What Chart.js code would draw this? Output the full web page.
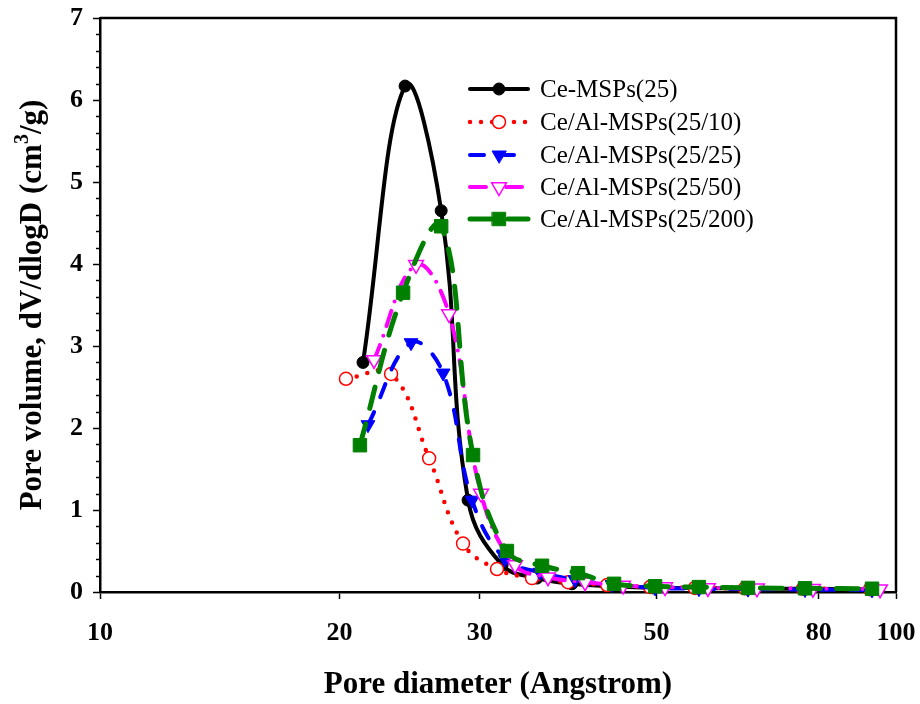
<!DOCTYPE html>
<html><head><meta charset="utf-8">
<script src="https://cdn.jsdelivr.net/npm/chart.js@4.4.0/dist/chart.umd.min.js"></script>
<style>html,body{margin:0;padding:0;background:#fff;} canvas{display:block;}</style>
</head><body>
<canvas id="c" width="920" height="704"></canvas>
<script>
// ---- data ----
const xTickValues = [10, 20, 30, 50, 80, 100];
const yMin = 0, yMax = 7;
const seriesNames = ["Ce-MSPs(25)", "Ce/Al-MSPs(25/10)", "Ce/Al-MSPs(25/25)", "Ce/Al-MSPs(25/50)", "Ce/Al-MSPs(25/200)"];

const ceX   = [21.4, 24.17, 26.83, 29.0, 32.0, 35.4, 39.17, 43.73, 49.52, 56.39, 65.17, 76.85, 93.3];
const ceY   = [2.80, 6.17, 4.65, 1.12, 0.33, 0.17, 0.10, 0.07, 0.05, 0.05, 0.04, 0.04, 0.03];

const al10X = [20.37, 23.21, 25.91, 28.58, 31.53, 34.89, 38.72, 43.36, 49.09, 55.9, 64.6, 76.41, 92.76];
const al10Y = [2.60, 2.66, 1.63, 0.59, 0.28, 0.17, 0.12, 0.085, 0.06, 0.05, 0.045, 0.04, 0.035];

const al25X = [21.71, 24.59, 26.98, 29.34, 32.27, 35.71, 39.51, 43.99, 49.81, 56.55, 65.17, 76.85, 93.3];
const al25Y = [2.04, 3.04, 2.67, 1.12, 0.40, 0.24, 0.15, 0.09, 0.05, 0.04, 0.035, 0.03, 0.025];

const al50X = [22.09, 24.95, 27.45, 30.11, 33.22, 36.54, 40.68, 45.4, 51.27, 58.04, 66.89, 78.64, 95.48];
const al50Y = [2.83, 3.99, 3.39, 1.20, 0.33, 0.18, 0.12, 0.08, 0.06, 0.05, 0.045, 0.04, 0.035];

const al200X = [21.21, 24.03, 26.83, 29.42, 32.45, 35.92, 39.86, 44.24, 49.81, 56.55, 65.17, 76.85, 93.3];
const al200Y = [1.79, 3.65, 4.46, 1.67, 0.50, 0.32, 0.23, 0.10, 0.07, 0.06, 0.05, 0.045, 0.04];

// ---- styling ----
const SERIF = "'Times New Roman', 'Liberation Serif', 'DejaVu Serif', serif";
const toPts = (xs, ys) => xs.map((x, i) => ({x: x, y: ys[i]}));

const styles = [
  {color:'#000000', dash:[], width:4, pointStyle:'circle', radius:6, fill:'#000000', bw:1, rot:0, order:5},
  {color:'#ff0000', dash:[0, 11], width:4.5, pointStyle:'circle', radius:6.5, fill:'#ffffff', bw:1.5, rot:0, order:4},
  {color:'#0000ff', dash:[14, 16], width:4, pointStyle:'triangle', radius:8, fill:'#0000ff', bw:1, rot:180, order:3},
  {color:'#ff00ff', dash:[16, 10, 0, 10], width:4, pointStyle:'triangle', radius:8.5, fill:'#ffffff', bw:1.5, rot:180, order:2},
  {color:'#008000', dash:[22, 16], width:5, pointStyle:'rect', radius:9.5, fill:'#008000', bw:1, rot:0, order:1}
];
const seriesData = [toPts(ceX, ceY), toPts(al10X, al10Y), toPts(al25X, al25Y), toPts(al50X, al50Y), toPts(al200X, al200Y)];

const datasets = seriesNames.map((name, i) => {
  const s = styles[i];
  return {
    label: name,
    data: seriesData[i],
    borderColor: s.color,
    borderWidth: s.width,
    borderDash: s.dash,
    borderCapStyle: 'round',
    borderJoinStyle: 'round',
    tension: 0.4,
    fill: false,
    pointStyle: s.pointStyle,
    pointRadius: s.radius,
    pointRotation: s.rot,
    pointBackgroundColor: s.fill,
    pointBorderColor: s.color,
    pointBorderWidth: s.bw,
    clip: false,
    order: s.order
  };
});

// ---- plugins ----
const framePlugin = {
  id: 'frame',
  beforeDatasetsDraw(chart) {
    const {ctx, chartArea: a, scales} = chart;
    ctx.save();
    ctx.strokeStyle = '#000';
    ctx.lineWidth = 2.5;
    ctx.beginPath();
    ctx.moveTo(a.left, a.top); ctx.lineTo(a.right, a.top); ctx.lineTo(a.right, a.bottom);
    ctx.stroke();
    // minor y ticks
    ctx.lineWidth = 1.5;
    const ys = scales.y;
    for (let k = 1; k < 35; k++) {
      if (k % 5 === 0) continue;
      const py = Math.round(ys.getPixelForValue(k * 0.2)) + 0.5;
      ctx.beginPath(); ctx.moveTo(a.left - 4, py); ctx.lineTo(a.left, py); ctx.stroke();
    }
    ctx.restore();
  },
  afterDraw(chart) {
    const {ctx, chartArea: a} = chart;
    ctx.save();
    ctx.fillStyle = '#000';
    // x title
    ctx.font = 'bold 31px ' + SERIF;
    ctx.textAlign = 'center'; ctx.textBaseline = 'middle';
    ctx.fillText('Pore diameter (Angstrom)', (a.left + a.right) / 2, 685);
    // y title with superscript
    ctx.translate(30, (a.top + a.bottom) / 2);
    ctx.rotate(-Math.PI / 2);
    const p1 = 'Pore volume, dV/dlogD (cm', p2 = '3', p3 = '/g)';
    const bigF = 'bold 31px ' + SERIF, smallF = 'bold 20px ' + SERIF;
    ctx.font = bigF; const w1 = ctx.measureText(p1).width, w3 = ctx.measureText(p3).width;
    ctx.font = smallF; const w2 = ctx.measureText(p2).width;
    let x = -(w1 + w2 + w3) / 2;
    ctx.textAlign = 'left'; ctx.textBaseline = 'alphabetic';
    ctx.font = bigF; ctx.fillText(p1, x, 11); x += w1;
    ctx.font = smallF; ctx.fillText(p2, x, -2); x += w2;
    ctx.font = bigF; ctx.fillText(p3, x, 11);
    ctx.restore();

    // legend
    ctx.save();
    const rowsY = [89, 122, 155, 187, 219];
    const x0 = 470, x1 = 528, xm = 499, tx = 540;
    chart.data.datasets.forEach((ds, i) => {
      const s = styles[i];
      const y = rowsY[i];
      ctx.strokeStyle = s.color;
      ctx.lineWidth = s.width;
      ctx.lineCap = 'round';
      ctx.setLineDash(s.dash);
      ctx.beginPath(); ctx.moveTo(x0, y); ctx.lineTo(x1, y); ctx.stroke();
      ctx.setLineDash([]);
      ctx.fillStyle = s.fill; ctx.strokeStyle = s.color; ctx.lineWidth = s.bw;
      Chart.helpers.drawPoint(ctx, {pointStyle: s.pointStyle, radius: s.radius, rotation: s.rot, borderWidth: s.bw}, xm, y);
      ctx.fillStyle = '#000';
      ctx.font = '25px ' + SERIF;
      ctx.textAlign = 'left'; ctx.textBaseline = 'middle';
      ctx.fillText(ds.label, tx, y + 1);
    });
    ctx.restore();
  }
};

new Chart(document.getElementById('c'), {
  type: 'line',
  data: {datasets: datasets},
  options: {
    responsive: false,
    animation: false,
    devicePixelRatio: 1,
    layout: {padding: {top: 18, right: 24, left: 0, bottom: 0}},
    plugins: {legend: {display: false}, tooltip: {enabled: false}, title: {display: false}},
    scales: {
      x: {
        type: 'logarithmic', min: 10, max: 100,
        afterBuildTicks: (scale) => { scale.ticks = xTickValues.map(v => ({value: v})); },
        afterFit: (scale) => { scale.height = 112; scale.paddingLeft = 0; scale.paddingRight = 0; },
        ticks: {
          autoSkip: false, maxRotation: 0, color: '#000', padding: 19,
          font: {family: SERIF, size: 26, weight: 'bold'},
          callback: (v) => String(v)
        },
        grid: {display: true, drawOnChartArea: false, drawTicks: true, tickLength: 7, tickWidth: 1.5, tickColor: '#000'},
        border: {display: true, color: '#000', width: 2.5},
        title: {display: false}
      },
      y: {
        min: yMin, max: yMax,
        afterFit: (scale) => { scale.width = 100; scale.paddingTop = 0; scale.paddingBottom = 0; },
        ticks: {
          stepSize: 1, color: '#000', padding: 10,
          font: {family: SERIF, size: 26, weight: 'bold'}
        },
        grid: {display: true, drawOnChartArea: false, drawTicks: true, tickLength: 7, tickWidth: 1.5, tickColor: '#000'},
        border: {display: true, color: '#000', width: 2.5},
        title: {display: false}
      }
    }
  },
  plugins: [framePlugin]
});
</script>
</body></html>
